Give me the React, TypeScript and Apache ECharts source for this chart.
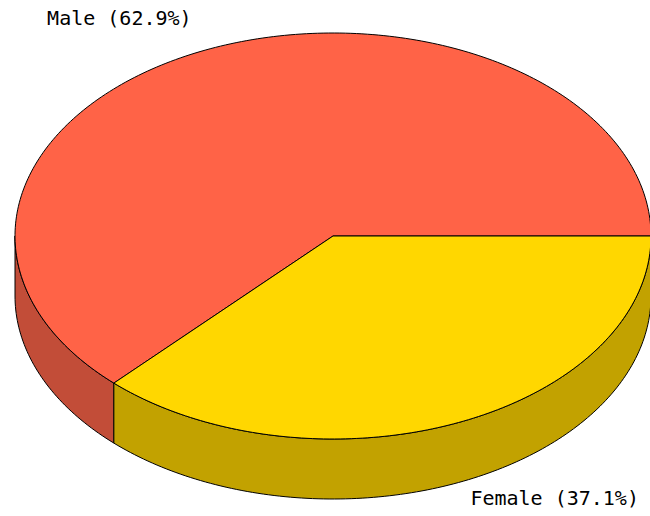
import React, { useEffect, useRef } from "react";
import * as echarts from "echarts";

const categories: string[] = ["Male", "Female"];
const values: number[] = [62.9, 37.1];
const topColors: string[] = ["#FF6347", "#FFD700"];
const sideColors: string[] = ["#C24D38", "#C2A200"];

export default function App() {
  const ref = useRef<HTMLDivElement>(null);
  useEffect(() => {
    document.body.style.margin = "0";
    const chart = echarts.init(ref.current!, undefined, { renderer: "svg" });
    const total = values.reduce((a, b) => a + b, 0);
    const cx = 333, cy = 236, rx = 318, ry = 203, depth = 60;
    const pt = (deg: number, dy = 0): number[] => {
      const r = (deg * Math.PI) / 180;
      return [cx + rx * Math.cos(r), cy - ry * Math.sin(r) + dy];
    };
    const arc = (a0: number, a1: number, dy = 0): number[][] => {
      const pts: number[][] = [];
      const n = Math.max(2, Math.ceil(Math.abs(a1 - a0) / 1));
      for (let i = 0; i <= n; i++) pts.push(pt(a0 + ((a1 - a0) * i) / n, dy));
      return pts;
    };
    const renderItem = (params: any, api: any) => {
      const idx = params.dataIndex;
      let start = 0;
      for (let i = 0; i < idx; i++) start += (values[i] / total) * 360;
      const v = api.value(0);
      const end = start + (v / total) * 360;
      const children: any[] = [];
      // visible side (front half: 180..360 ccw)
      const s0 = Math.max(start, 180);
      const s1 = Math.min(end, 360);
      if (s1 > s0) {
        const topArc = arc(s0, s1, 0);
        const botArc = arc(s1, s0, depth);
        children.push({
          type: "polygon",
          z2: 1,
          shape: { points: topArc.concat(botArc) },
          style: { fill: sideColors[idx], stroke: "#000", lineWidth: 1 },
        });
      }
      // top face
      children.push({
        type: "polygon",
        z2: 10,
        shape: { points: [[cx, cy]].concat(arc(start, end, 0)) },
        style: { fill: topColors[idx], stroke: "#000", lineWidth: 1 },
      });
      // label
      const mid = (start + end) / 2;
      const p = pt(mid);
      const upper = Math.sin((mid * Math.PI) / 180) > 0;
      const text = `${categories[idx]} (${v.toFixed(1)}%)`;
      children.push({
        type: "text",
        z2: 20,
        style: upper
          ? {
              text,
              x: p[0] - 16,
              y: p[1] - 31,
              align: "right",
              verticalAlign: "middle",
              textAlign: "right",
              textVerticalAlign: "middle",
              fill: "#000",
              font: "20px 'DejaVu Sans Mono'",
            }
          : {
              text,
              x: p[0] + 12,
              y: p[1] + depth + 15,
              align: "left",
              verticalAlign: "middle",
              textAlign: "left",
              textVerticalAlign: "middle",
              fill: "#000",
              font: "20px 'DejaVu Sans Mono'",
            },
      });
      return { type: "group", children };
    };
    chart.setOption({
      animation: false,
      backgroundColor: "#fff",
      series: [
        {
          type: "custom",
          coordinateSystem: "none",
          renderItem,
          data: values.map((v) => [v]),
        },
      ],
    });
    return () => chart.dispose();
  }, []);
  return (
    <div
      ref={ref}
      style={{ position: "absolute", left: 0, top: 0, width: 650, height: 516 }}
    />
  );
}
